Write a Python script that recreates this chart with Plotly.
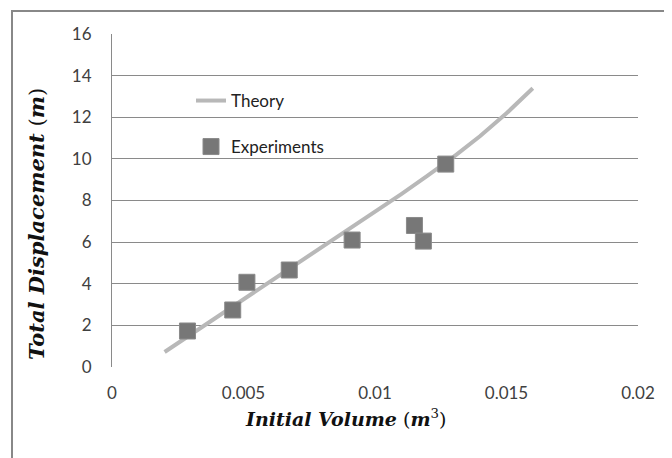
import plotly.graph_objects as go

# ---- data ----
x_tick_vals = [0, 0.005, 0.01, 0.015, 0.02]
x_tick_text = ["0", "0.005", "0.01", "0.015", "0.02"]
y_tick_vals = [0, 2, 4, 6, 8, 10, 12, 14, 16]

theory_volume = [0.002, 0.003, 0.004, 0.005, 0.006, 0.007, 0.008, 0.009,
                 0.010, 0.011, 0.012, 0.013, 0.014, 0.015, 0.016]
theory_disp = [0.72, 1.56, 2.40, 3.24, 4.08, 4.92, 5.76, 6.60,
               7.45, 8.31, 9.19, 10.11, 11.10, 12.19, 13.39]

exp_volume = [0.00287, 0.00459, 0.00513, 0.00674, 0.00913, 0.01150, 0.01184, 0.01269]
exp_disp = [1.73, 2.74, 4.07, 4.66, 6.10, 6.80, 6.05, 9.75]

# the page adds an 8px body margin, so the figure is drawn 8px smaller
OFF = 8
W, H = 672 - OFF, 458 - OFF
L, R, T, B = 112 - OFF, 34, 34 - OFF, 91
pw, ph = W - L - R, H - T - B


def px(xp):  # reference pixel -> paper
    return (xp - OFF - L) / pw


def py(yp):
    return (H - B - (yp - OFF)) / ph


tick_font = dict(family="Lato, 'Open Sans', sans-serif", size=17, color="#404040")
legend_font = dict(family="Lato, 'Open Sans', sans-serif", size=17, color="#222222")

fig = go.Figure()
fig.add_trace(go.Scatter(
    x=theory_volume, y=theory_disp, mode="lines", name="Theory",
    line=dict(color="#b8b8b8", width=4), legend="legend",
))
fig.add_trace(go.Scatter(
    x=exp_volume, y=exp_disp, mode="markers", name="Experiments",
    marker=dict(symbol="square", size=16, color="#777777",
                line=dict(color="#8a8a8a", width=1)),
    legend="legend2",
))

fig.update_layout(
    width=W, height=H,
    margin=dict(l=L, r=R, t=T, b=B),
    paper_bgcolor="white", plot_bgcolor="white",
    showlegend=True,
    legend=dict(x=px(191), y=py(101), xanchor="left", yanchor="middle",
                font=legend_font, bgcolor="rgba(0,0,0,0)"),
    legend2=dict(x=px(191), y=py(147), xanchor="left", yanchor="middle",
                 font=legend_font, bgcolor="rgba(0,0,0,0)"),
    xaxis=dict(range=[0, 0.02], tickvals=x_tick_vals, ticktext=x_tick_text,
               showgrid=False, zeroline=False, showline=False, ticks="",
               tickfont=tick_font, ticklabelstandoff=14),
    yaxis=dict(range=[0, 16], tickvals=y_tick_vals, showgrid=True,
               gridcolor="#8a8a8a", gridwidth=1, zeroline=False,
               showline=True, linecolor="#8a8a8a", linewidth=1, ticks="",
               tickfont=tick_font, ticklabelstandoff=16),
    shapes=[dict(type="rect", xref="paper", yref="paper",
                 x0=px(12), x1=px(700), y0=py(490), y1=py(11),
                 line=dict(color="#888888", width=2), fillcolor="rgba(0,0,0,0)",
                 layer="below")],
    annotations=[
        dict(text="<b><i>Initial Volume</i></b> (<b><i>m</i></b><sup>3</sup>)",
             xref="paper", yref="paper", x=px(345), y=py(418),
             xanchor="center", yanchor="middle", showarrow=False,
             font=dict(family="'DejaVu Serif', serif", size=19, color="#111111")),
        dict(text="<b><i>Total Displacement</i></b> (<b><i>m</i></b>)",
             xref="paper", yref="paper", x=px(36), y=py(224),
             xanchor="center", yanchor="middle", showarrow=False, textangle=-90,
             font=dict(family="'DejaVu Serif', serif", size=21, color="#111111")),
    ],
)

fig.write_html("out.html")
